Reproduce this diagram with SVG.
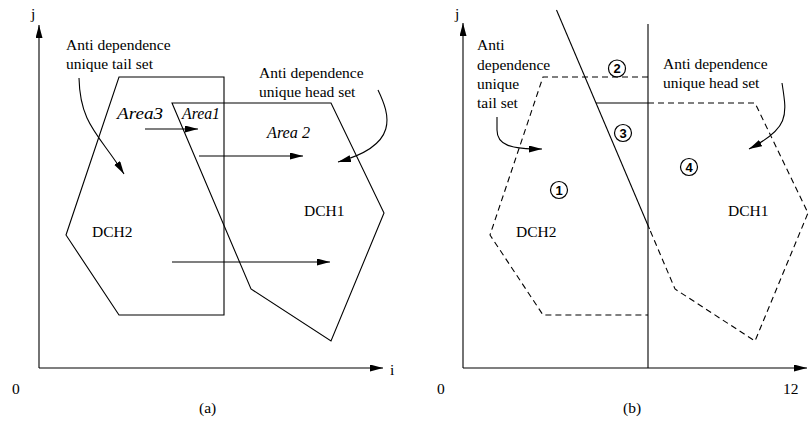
<svg xmlns="http://www.w3.org/2000/svg" width="809" height="431" viewBox="0 0 809 431">
<style>
.ln{fill:none;stroke:#000;stroke-width:1.1}
.ds{fill:none;stroke:#000;stroke-width:1.1;stroke-dasharray:6 4}
.t{font-family:"Liberation Serif","Times New Roman",serif;font-size:15.5px;fill:#000}
.it{font-family:"Liberation Serif","Times New Roman",serif;font-style:italic;font-size:16.5px;fill:#000}
.cn{font-family:"Liberation Sans",Arial,sans-serif;font-weight:bold;font-size:13px;fill:#000;text-anchor:middle}
.cc{fill:none;stroke:#000;stroke-width:1.2}
</style>
<defs>
<marker id="ah" markerUnits="userSpaceOnUse" markerWidth="14" markerHeight="8" refX="13" refY="3.5" orient="auto">
<path d="M0,0 L13,3.5 L0,7 z" fill="#000"/>
</marker>
</defs>

<g id="panel-a">
<g id="axes-a">
<line class="ln" x1="39" y1="368" x2="39" y2="25" marker-end="url(#ah)"/>
<line class="ln" x1="39" y1="368" x2="383" y2="368" marker-end="url(#ah)"/>
<text class="t" x="31" y="19">j</text>
<text class="t" x="390" y="375">i</text>
<text class="t" x="12" y="394">0</text>
<text class="t" x="199" y="413">(a)</text>
</g>
<g id="dch2-a">
<polygon class="ln" points="119,77 224,77 224,315 119,315 66,235"/>
<text class="t" x="92" y="237">DCH2</text>
</g>
<g id="dch1-a">
<polygon class="ln" points="172,103 331,103 384,213 331,341 251,289"/>
<text class="t" x="304" y="216">DCH1</text>
</g>
<g id="labels-a">
<text class="t" x="66" y="50">Anti dependence</text>
<text class="t" x="66" y="69">unique tail set</text>
<text class="t" x="259" y="78">Anti dependence</text>
<text class="t" x="259" y="97">unique head set</text>
<text class="it" x="117" y="119" textLength="46" lengthAdjust="spacingAndGlyphs">Area3</text>
<text class="it" x="182" y="119" textLength="38" lengthAdjust="spacingAndGlyphs">Area1</text>
<text class="it" x="267" y="138" textLength="43" lengthAdjust="spacingAndGlyphs">Area 2</text>
</g>
<g id="connectors-a">
<line class="ln" x1="145" y1="129" x2="198" y2="129" marker-end="url(#ah)"/>
<line class="ln" x1="199" y1="156" x2="303" y2="156" marker-end="url(#ah)"/>
<line class="ln" x1="172" y1="262" x2="330" y2="262" marker-end="url(#ah)"/>
<path class="ln" d="M79,78 C80,125 100,135 124,174" marker-end="url(#ah)"/>
<path class="ln" d="M378,90 C390,115 400,145 338,162" marker-end="url(#ah)"/>
</g>
</g>

<g id="panel-b">
<g id="axes-b">
<line class="ln" x1="463" y1="368" x2="463" y2="23" marker-end="url(#ah)"/>
<line class="ln" x1="463" y1="368" x2="807" y2="368" marker-end="url(#ah)"/>
<text class="t" x="455" y="19">j</text>
<text class="t" x="437" y="394">0</text>
<text class="t" x="783" y="394">12</text>
<text class="t" x="623" y="413">(b)</text>
</g>
<g id="dch2-b">
<path class="ds" d="M648,77 L543,77 L490,235 L543,315 L648,315"/>
<text class="t" x="516" y="237">DCH2</text>
</g>
<g id="dch1-b">
<path class="ds" d="M648,103 L755,103 L808,213 L755,341 L675,289 L649.5,229"/>
<text class="t" x="728" y="216">DCH1</text>
</g>
<g id="cuts-b">
<line class="ln" x1="648" y1="24" x2="648" y2="368"/>
<line class="ln" x1="556.5" y1="10" x2="649.5" y2="229"/>
<line class="ln" x1="596" y1="103" x2="648" y2="103"/>
</g>
<g id="region-1"><circle class="cc" cx="559" cy="190" r="8.5"/><text class="cn" x="559" y="194.7">1</text></g>
<g id="region-2"><circle class="cc" cx="617" cy="68.5" r="8.5"/><text class="cn" x="617" y="73.2">2</text></g>
<g id="region-3"><circle class="cc" cx="623" cy="133" r="8.5"/><text class="cn" x="623" y="137.7">3</text></g>
<g id="region-4"><circle class="cc" cx="689" cy="167" r="8.5"/><text class="cn" x="689" y="171.7">4</text></g>
<g id="labels-b">
<text class="t" x="477" y="50">Anti</text>
<text class="t" x="477" y="70">dependence</text>
<text class="t" x="477" y="89">unique</text>
<text class="t" x="477" y="108">tail set</text>
<text class="t" x="663" y="69">Anti dependence</text>
<text class="t" x="663" y="88">unique head set</text>
</g>
<g id="connectors-b">
<path class="ln" d="M497,117 L497,130 C497,145 510,149 542,149" marker-end="url(#ah)"/>
<path class="ln" d="M782,83 C787,115 790,128 749,149" marker-end="url(#ah)"/>
</g>
</g>
</svg>
